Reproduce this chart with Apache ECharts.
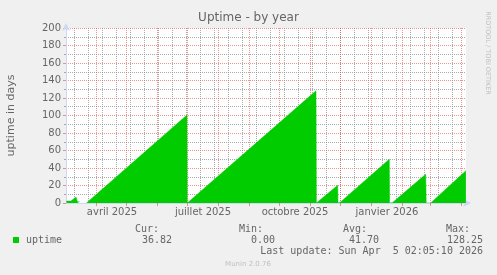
<!DOCTYPE html>
<html><head><meta charset="utf-8">
<script src="https://cdn.jsdelivr.net/npm/echarts@6/dist/echarts.min.js"></script>
<style>html,body{margin:0;padding:0;background:#F0F0F0;}#c{width:497px;height:275px;}</style>
</head><body><div id="c"></div>
<script>
// x values: days counted from 1 April 2025
const uptimeDays   = [-29.5, -25, -20, -18.8, -18.6, -16.5, -16.4, -9.5, 91, 91.3, 91.8, 220, 220.4, 222.2, 241.7, 242, 244.6, 293.3, 293.6, 296.6, 329.7, 330.2, 334.7, 369.9];
const uptimeValues = [2.2, 2.2, 6.8, 6.8, 1.5, 1.5, null, 0, 100.6, 0, 0.5, 128.25, 0, 1.2, 20.2, 0, 1.2, 50, 0, 0.5, 32.8, 0, 0, 36.82];
const monthStarts = [0, 30, 61, 91, 122, 153, 183, 214, 244, 275, 306, 334, 365];
const minorDays = [-22, -8, 6, 20, 34, 48, 62, 76, 90, 104, 118, 132, 146, 160, 174, 188, 202, 216, 230, 244, 258, 272, 286, 300, 314, 328, 342, 356, 370];
const labelDays = [16, 107, 199, 291];
const labelTexts = ['avril 2025', 'juillet 2025', 'octobre 2025', 'janvier 2026'];
const statLabels = ['Cur:', 'Min:', 'Avg:', 'Max:'];
const statValues = ['36.82', '0.00', '41.70', '128.25'];
const seriesName = 'uptime';
const lastUpdate = 'Last update: Sun Apr  5 02:05:10 2026';

const FONT = '"DejaVu Sans", sans-serif';
const MONO = '"DejaVu Sans Mono", monospace';
const TXT = '#666666';
const GRID = 'rgba(143,143,143,0.75)';
const MGRID = 'rgba(222,79,79,0.6)';
const AXIS = '#CFD6F8';
const PX = 0.5; // half-pixel shift so the dotted verticals stay crisp

const data = uptimeDays.map((d, i) => [d, uptimeValues[i]]);

const chart = echarts.init(document.getElementById('c'), null, {renderer: 'canvas'});

const statX = [[159, 172], [263, 275], [367, 379], [470, 483]];
const graphics = [];
statLabels.forEach((l, i) => {
  graphics.push({type: 'text', style: {text: l, x: statX[i][0], y: 229, textAlign: 'right', textVerticalAlign: 'middle', font: '10px ' + MONO, fill: TXT}});
  graphics.push({type: 'text', style: {text: statValues[i], x: statX[i][1], y: 240, textAlign: 'right', textVerticalAlign: 'middle', font: '10px ' + MONO, fill: TXT}});
});
graphics.push({type: 'text', style: {text: lastUpdate, x: 483, y: 251, textAlign: 'right', textVerticalAlign: 'middle', font: '10px ' + MONO, fill: TXT}});
graphics.push({type: 'text', style: {text: 'Munin 2.0.76', x: 248, y: 264, textAlign: 'center', textVerticalAlign: 'middle', font: '7px ' + FONT, fill: '#c0c0c0'}});
graphics.push({type: 'text', x: 488, y: 53, rotation: -Math.PI / 2, style: {text: 'RRDTOOL / TOBI OETIKER', x: 0, y: 0, textAlign: 'center', textVerticalAlign: 'middle', font: '6.5px ' + FONT, fill: '#c0c0c0'}});

chart.setOption({
  backgroundColor: '#F0F0F0',
  animation: false,
  title: {text: 'Uptime - by year', left: 'center', top: 12, padding: 0,
    textStyle: {fontFamily: FONT, fontSize: 12, fontWeight: 'normal', color: TXT}},
  legend: {data: [seriesName], left: 13, top: 235, icon: 'rect', itemWidth: 6, itemHeight: 6, padding: 0,
    textStyle: {fontFamily: MONO, fontSize: 10, color: TXT, padding: [0, 0, 0, 2]}},
  grid: {left: 66, top: 28, width: 400, height: 175, show: true, backgroundColor: '#FFFFFF', borderWidth: 0,
    containLabel: false, outerBoundsMode: 'none'},
  xAxis: {
    type: 'value', min: -30, max: 370,
    axisLine: {show: true, onZero: false, lineStyle: {color: AXIS, width: 1}, symbol: ['none', 'arrow'], symbolSize: [6, 8], symbolOffset: [0, 5]},
    axisTick: {show: true, customValues: monthStarts, length: 3, lineStyle: {color: MGRID}},
    axisLabel: {customValues: labelDays, formatter: v => labelTexts[labelDays.indexOf(v)] || '',
      fontFamily: FONT, fontSize: 10, color: TXT, margin: 4},
    splitLine: {show: false}
  },
  yAxis: {
    type: 'value', min: 0, max: 200, interval: 20,
    name: 'uptime in days', nameLocation: 'middle', nameGap: 49,
    nameTextStyle: {fontFamily: FONT, fontSize: 11, color: TXT},
    axisLine: {show: true, onZero: false, lineStyle: {color: AXIS, width: 1}, symbol: ['none', 'arrow'], symbolSize: [6, 8], symbolOffset: [0, 5]},
    axisTick: {show: true, length: 3, lineStyle: {color: MGRID}},
    minorTick: {show: true, splitNumber: 2, length: 2, lineStyle: {color: GRID}},
    axisLabel: {fontFamily: FONT, fontSize: 10, color: TXT, margin: 5},
    splitLine: {show: true, lineStyle: {color: MGRID, type: [1, 1], width: 1}},
    minorSplitLine: {show: true, lineStyle: {color: GRID, type: [1, 1], width: 1}}
  },
  series: [
    {
      type: 'line', data: [], z: 1, silent: true,
      markLine: {silent: true, symbol: ['none', 'none'], label: {show: false}, animation: false, z: 1,
        data: minorDays.map(d => ({xAxis: d + PX, lineStyle: {color: GRID, type: [1, 1], width: 1}}))
          .concat(monthStarts.map(d => ({xAxis: d + PX, lineStyle: {color: MGRID, type: [1, 1], width: 1}})))}
    },
    {
      name: seriesName, type: 'line', data: data, z: 3,
      showSymbol: false, connectNulls: false,
      itemStyle: {color: '#00CC00'},
      lineStyle: {color: '#00CC00', width: 0.5},
      areaStyle: {color: '#00CC00', opacity: 1}
    }
  ],
  graphic: graphics
});
</script>
</body></html>
